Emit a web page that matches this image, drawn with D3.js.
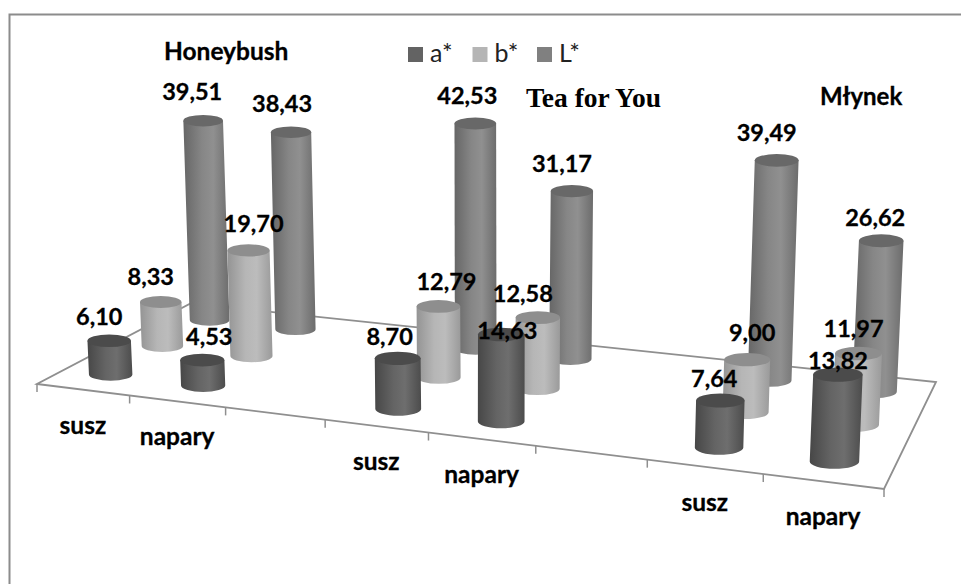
<!DOCTYPE html>
<html><head><meta charset="utf-8">
<script src="https://cdn.jsdelivr.net/npm/d3@7/dist/d3.min.js"></script>
<style>html,body{margin:0;padding:0;background:#fff}svg{display:block}</style>
</head><body><svg id="c" width="961" height="584"></svg>
<script>
// ---- data ----
const slots = ["s1","n1","g1","s2","n2","g2","s3","n3"];
const slotLabels = {s1:"susz",n1:"napary",s2:"susz",n2:"napary",s3:"susz",n3:"napary"};
const seriesNames = ["a*","b*","L*"];
const aValues = [6.10,4.53,8.70,14.63,7.64,13.82];
const bValues = [8.33,19.70,12.79,12.58,9.00,11.97];
const LValues = [39.51,38.43,42.53,31.17,39.49,26.62];
const barSlots = ["s1","n1","s2","n2","s3","n3"];
const groupTitles = ["Honeybush","Tea for You","Młynek"];

// ---- layout ----
const W=961,H=584;
const svg=d3.select("#c");
const FL=[37,384],FR=[884,489],BR=[936,382],BL=[190.5,303.5];
function homography(p0,p1,p2,p3){
  const [x0,y0]=p0,[x1,y1]=p1,[x2,y2]=p2,[x3,y3]=p3;
  const dx1=x1-x2,dx2=x3-x2,sx=x0-x1+x2-x3,dy1=y1-y2,dy2=y3-y2,sy=y0-y1+y2-y3;
  const den=dx1*dy2-dx2*dy1;
  const g=(sx*dy2-dx2*sy)/den,h=(dx1*sy-sx*dy1)/den;
  const a=x1-x0+g*x1,b=x3-x0+h*x3,c=x0,d=y1-y0+g*y1,e=y3-y0+h*y3,f=y0;
  return (u,v)=>{const w=g*u+h*v+1;return {x:(a*u+b*v+c)/w,y:(d*u+e*v+f)/w,s:1/w};};
}
const floor=homography(FL,FR,BR,BL);
const xBand=d3.scaleBand().domain(slots).range([0,1]);
const zBand=d3.scaleBand().domain(seriesNames).range([0,1]);
const yScale=d3.scaleLinear().domain([0,10]).range([0,56]);
const rScale=d3.scaleLinear().domain([0,1]).range([0,22]);
const ryRatio=0.29;
const baseScale=floor(0.5,0.5).s;
const vanishX=490, tilt=8700;

const colors={
 "a*":{legend:"#636363",top:"#4b4b4b",stops:["#474747","#646464","#6e6e6e","#4c4c4c"]},
 "b*":{legend:"#b5b5b5",top:"#8e8e8e",stops:["#949494","#b6b6b6","#bcbcbc","#9a9a9a"]},
 "L*":{legend:"#808080",top:"#686868",stops:["#666666","#868686","#909090","#6c6c6c"]}
};
const defs=svg.append("defs");
seriesNames.forEach((n,i)=>{
  const g=defs.append("linearGradient").attr("id","g"+i).attr("x1",0).attr("x2",1).attr("y1",0).attr("y2",0);
  [0,.4,.65,1].forEach((o,j)=>g.append("stop").attr("offset",o).attr("stop-color",colors[n].stops[j]));
});

svg.append("path").attr("d","M9.5,584V14.5H961").attr("fill","none").attr("stroke","#8c8c8c").attr("stroke-width",2);

svg.append("path").attr("d",d3.line()([FL,FR,BR,BL])+"Z").attr("fill","none").attr("stroke","#8f8f8f").attr("stroke-width",1.8);
const ticks=d3.range(slots.length+1).map(i=>floor(i/slots.length,0));
svg.append("g").selectAll("line").data(ticks).join("line")
  .attr("x1",d=>d.x).attr("x2",d=>d.x).attr("y1",d=>d.y).attr("y2",d=>d.y+8)
  .attr("stroke","#8f8f8f").attr("stroke-width",1.5);

const rows=[["L*",LValues],["b*",bValues],["a*",aValues]];
const gBars=svg.append("g");
const bars=[];
rows.forEach(([name,vals])=>{
  vals.forEach((v,i)=>{
    const u=xBand(barSlots[i])+xBand.bandwidth()/2, w=zBand(name)+zBand.bandwidth()/2;
    const p=floor(u,w);
    const k=p.s/baseScale;
    bars.push({name,v,i,u,x:p.x,y:p.y,k,r:rScale(k),h:yScale(v)*k});
  });
});
bars.forEach(b=>{
  const ry=b.r*ryRatio, dx=b.h*(b.x-vanishX)/tilt;
  b.tx=b.x+dx; b.ty=b.y-b.h; b.ry=ry;
});
const idx=n=>seriesNames.indexOf(n);
const barG=gBars.selectAll("g").data(bars).join("g");
barG.append("path")
  .attr("d",b=>`M${b.tx-b.r},${b.ty}L${b.x-b.r},${b.y}A${b.r},${b.ry} 0 0 0 ${b.x+b.r},${b.y}L${b.tx+b.r},${b.ty}Z`)
  .attr("fill",b=>`url(#g${idx(b.name)})`);
barG.append("ellipse").attr("cx",b=>b.tx).attr("cy",b=>b.ty).attr("rx",b=>b.r).attr("ry",b=>b.ry)
  .attr("fill",b=>colors[b.name].top);

const fmt=v=>v.toFixed(2).replace(".",",");
const labelFont="Lato, 'Open Sans', sans-serif";
const labelNudges={
 "a*":[[-10,-16],[7,-15],[-8,-13],[6,4],[-6,-14],[0,-6]],
 "b*":[[-10,-17],[5,-18],[8,-16],[-15,-16],[5,-19],[-5,-16]],
 "L*":[[-11,-21],[-9,-20],[-8,-19],[-10,-19],[-10,-19],[-6,-15]]
};
svg.append("g").selectAll("text").data(bars).join("text")
  .attr("x",b=>b.tx+labelNudges[b.name][b.i][0])
  .attr("y",b=>b.ty+labelNudges[b.name][b.i][1])
  .attr("text-anchor","middle").attr("font-family",labelFont).attr("font-weight",700)
  .attr("font-size",23.5).attr("fill","#000").attr("stroke","#000").attr("stroke-width",0.3).text(b=>fmt(b.v));

const catG=svg.append("g");
barSlots.forEach(s=>{
  const p=floor(xBand(s)+xBand.bandwidth()/2,0);
  catG.append("text").attr("x",p.x).attr("y",p.y+44).attr("text-anchor","middle")
    .attr("font-family",labelFont).attr("font-weight",700).attr("font-size",24.5)
    .attr("stroke","#000").attr("stroke-width",0.3).text(slotLabels[s]);
});

svg.append("text").attr("x",164).attr("y",60).attr("font-family",labelFont).attr("font-weight",700).attr("font-size",24.5).attr("stroke","#000").attr("stroke-width",0.3).text(groupTitles[0]);
svg.append("text").attr("x",526).attr("y",107).attr("font-family","'Liberation Serif',serif").attr("font-weight",700).attr("font-size",27.5).text(groupTitles[1]);
svg.append("text").attr("x",820).attr("y",105).attr("font-family",labelFont).attr("font-weight",700).attr("font-size",24).attr("stroke","#000").attr("stroke-width",0.3).text(groupTitles[2]);

const legendX=d3.scalePoint().domain(seriesNames).range([408,537]);
const lg=svg.append("g").selectAll("g").data(seriesNames).join("g").attr("transform",d=>`translate(${legendX(d)},47)`);
lg.append("rect").attr("width",15).attr("height",15).attr("fill",d=>colors[d].legend);
lg.append("text").attr("x",22).attr("y",15).attr("font-family",labelFont).attr("font-size",25).attr("fill","#222").text(d=>d);
</script></body></html>
